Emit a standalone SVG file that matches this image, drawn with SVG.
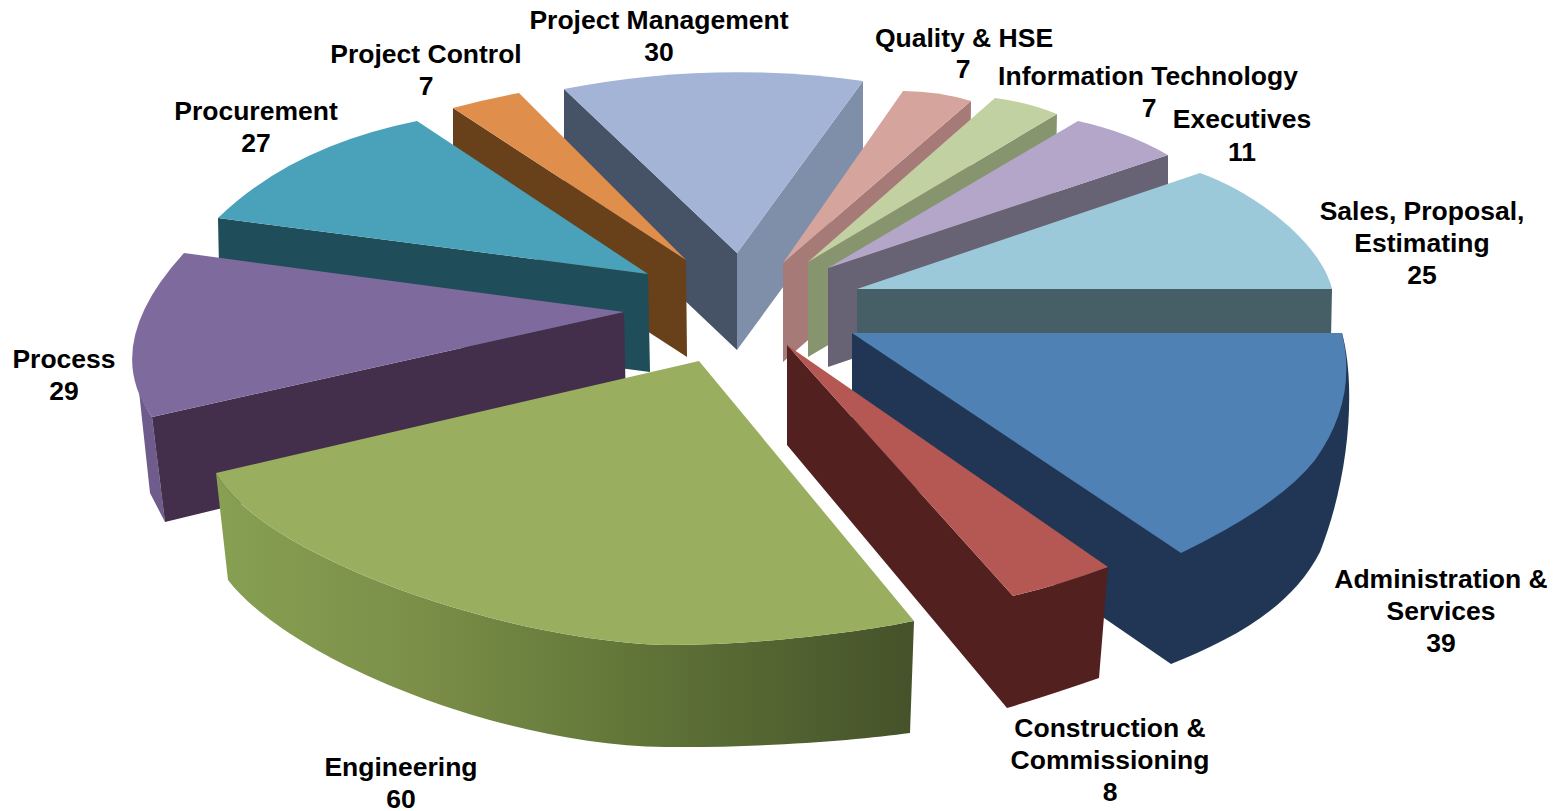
<svg xmlns="http://www.w3.org/2000/svg" width="1566" height="811" viewBox="0 0 1566 811">
<defs>
<linearGradient id="engSide" x1="216" y1="0" x2="914" y2="0" gradientUnits="userSpaceOnUse">
<stop offset="0" stop-color="#87A052"/>
<stop offset="0.3" stop-color="#7A8E48"/>
<stop offset="0.6" stop-color="#617538"/>
<stop offset="1" stop-color="#45522A"/>
</linearGradient>
</defs>
<style>
.lbl{font-family:"Liberation Sans",Arial,Helvetica,sans-serif;font-weight:bold;font-size:26.5px;fill:#000;text-anchor:middle}
</style>
<rect x="0" y="0" width="1566" height="811" fill="#FFFFFF"/>

<g id="slice-project-management">
<path d="M564,89 L737,253 L737,350 L564,186 Z" fill="#465366"/>
<path d="M863,81 L737,253 L737,350 L863,178 Z" fill="#7F8FA9"/>
<path d="M564,89 Q713,60 863,81 L737,253 Z" fill="#A3B4D6"/>
</g>

<g id="slice-project-control">
<path d="M453,108 L686,260 L687,357 L453,205 Z" fill="#68401A"/>
<path d="M453,108 Q486,99 519,93 L686,260 Z" fill="#E08E4C"/>
</g>

<g id="slice-procurement">
<path d="M218,218 L648,274 L650,372 L220,316 Z" fill="#1F4D59"/>
<path d="M417,121 Q292,146 218,218 L648,274 Z" fill="#4AA2BA"/>
</g>

<g id="slice-process">
<path d="M134,345 L133,357 Q136,395 152,417 L165,522 L150,493 Z" fill="#6E5C8C"/>
<path d="M152,417 L624,312 L626,410 L165,522 Z" fill="#432F4C"/>
<path d="M184,253 Q100,345 152,417 L624,312 Z" fill="#7F6A9E"/>
</g>

<g id="slice-quality-hse">
<path d="M783,263 L971,101 L970,198 L783,362 Z" fill="#A67A77"/>
<path d="M903,91 Q938,91 971,101 L783,263 Z" fill="#D5A49C"/>
</g>

<g id="slice-information-technology">
<path d="M808,262 L1057,114 L1055,211 L808,357 Z" fill="#87956F"/>
<path d="M995,98 Q1027,102 1057,114 L808,262 Z" fill="#C1D1A2"/>
</g>

<g id="slice-executives">
<path d="M828,268 L1168,155 L1168,252 L828,367 Z" fill="#676274"/>
<path d="M1078,121 Q1128,132 1168,155 L828,268 Z" fill="#B3A6C8"/>
</g>

<g id="slice-sales">
<path d="M857,289 L1332,289 L1330,388 L857,388 Z" fill="#465E66"/>
<path d="M1200,173 C1250,190 1320,240 1332,289 L857,289 Z" fill="#9BC9D9"/>
</g>

<g id="slice-administration">
<path d="M852,333 L1342,333 C1355,380 1352,470 1320,552 C1290,610 1230,640 1171,664 L852,445 Z" fill="#203654"/>
<path d="M852,333 L1342,333 Q1358,400 1315,460 Q1280,505 1181,553 Z" fill="#4F81B5"/>
</g>

<g id="slice-construction">
<path d="M787,345 L1013,596 Q1060,585 1108,567 L1099,678 Q1050,695 1007,708 L787,445 Z" fill="#52201F"/>
<path d="M787,345 L1108,567 Q1060,585 1013,596 Z" fill="#B55752"/>
</g>

<g id="slice-engineering">
<path d="M216,473 C260,555 500,640 665,645 C760,645 860,632 914,621 L910,733 C860,740 760,748 665,747 C500,745 290,660 228,580 Z" fill="url(#engSide)"/>
<path d="M699,361 L216,473 C260,555 500,640 665,645 C760,645 860,632 914,621 Z" fill="#99AE5E"/>
</g>

<g id="labels">
<text class="lbl" x="659" y="29">Project Management</text>
<text class="lbl" x="659" y="61">30</text>
<text class="lbl" x="426" y="63">Project Control</text>
<text class="lbl" x="426" y="95">7</text>
<text class="lbl" x="256" y="120">Procurement</text>
<text class="lbl" x="256" y="152">27</text>
<text class="lbl" x="64" y="368">Process</text>
<text class="lbl" x="64" y="400">29</text>
<text class="lbl" x="401" y="776">Engineering</text>
<text class="lbl" x="401" y="808">60</text>
<text class="lbl" x="1110" y="737">Construction &amp;</text>
<text class="lbl" x="1110" y="769">Commissioning</text>
<text class="lbl" x="1110" y="801">8</text>
<text class="lbl" x="1441" y="588">Administration &amp;</text>
<text class="lbl" x="1441" y="620">Services</text>
<text class="lbl" x="1441" y="652">39</text>
<text class="lbl" x="1422" y="220">Sales, Proposal,</text>
<text class="lbl" x="1422" y="252">Estimating</text>
<text class="lbl" x="1422" y="284">25</text>
<text class="lbl" x="1242" y="128">Executives</text>
<text class="lbl" x="1242" y="161">11</text>
<text class="lbl" x="1148" y="85">Information Technology</text>
<text class="lbl" x="1149" y="117">7</text>
<text class="lbl" x="964" y="47">Quality &amp; HSE</text>
<text class="lbl" x="963" y="78">7</text>
</g>
</svg>
